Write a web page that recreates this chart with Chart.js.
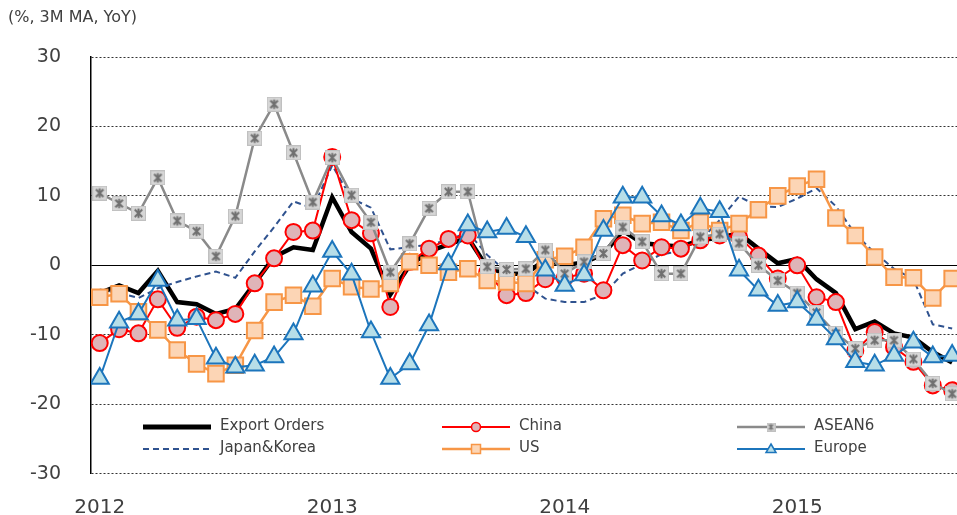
<!DOCTYPE html>
<html>
<head>
<meta charset="utf-8">
<script src="https://cdn.jsdelivr.net/npm/chart.js@4/dist/chart.umd.min.js"></script>
<style>
html, body { margin: 0; padding: 0; background: #fff; overflow: hidden; }
#chart { display: block; }
</style>
</head>
<body>
<canvas id="chart" width="957" height="515"></canvas>
<script>
// monthly, Jan 2012 - Sep 2015
const months = [
  '2012-01','2012-02','2012-03','2012-04','2012-05','2012-06','2012-07','2012-08','2012-09','2012-10','2012-11','2012-12',
  '2013-01','2013-02','2013-03','2013-04','2013-05','2013-06','2013-07','2013-08','2013-09','2013-10','2013-11','2013-12',
  '2014-01','2014-02','2014-03','2014-04','2014-05','2014-06','2014-07','2014-08','2014-09','2014-10','2014-11','2014-12',
  '2015-01','2015-02','2015-03','2015-04','2015-05','2015-06','2015-07','2015-08','2015-09'
];
const exportOrders = [-4.0, -2.9, -4.0, -0.8, -5.3, -5.6, -7.0, -6.3, -2.6, 1.2, 2.6, 2.2,
  9.8, 4.8, 2.4, -4.2, 0.0, 2.0, 3.0, 4.0, -0.3, -1.2, -1.2, 0.8,
  0.0, 0.4, 1.6, 5.0, 3.2, 2.9, 2.7, 3.6, 4.0, 4.6, 2.4, 0.3,
  0.9, -2.0, -4.0, -9.2, -8.1, -9.8, -10.4, -12.5, -14.0];
const china = [-11.2, -9.2, -9.8, -4.9, -9.0, -7.4, -7.9, -7.0, -2.6, 1.0, 4.8, 5.0,
  15.6, 6.5, 4.6, -6.0, 0.5, 2.4, 3.8, 4.3, -1.0, -4.3, -4.0, -2.0,
  -1.8, -1.2, -3.6, 2.9, 0.7, 2.6, 2.4, 3.6, 4.3, 4.1, 1.4, -1.9,
  0.0, -4.6, -5.3, -12.3, -9.6, -11.8, -13.9, -17.3, -18.0];
const asean6 = [10.4, 8.9, 7.5, 12.6, 6.4, 4.9, 1.3, 7.1, 18.3, 23.2, 16.2, 9.1,
  15.5, 10.1, 6.2, -1.0, 3.1, 8.2, 10.6, 10.6, -0.2, -0.6, -0.5, 2.2,
  -1.2, 0.5, 1.7, 5.5, 3.4, -1.2, -1.2, 4.1, 4.5, 3.2, 0.0, -2.2,
  -4.0, -6.8, -9.8, -12.0, -10.8, -10.8, -13.5, -17.0, -18.5];
const japanKorea = [-3.5, -4.0, -4.7, -3.3, -2.4, -1.6, -0.9, -1.8, 2.0, 5.5, 9.2, 8.2,
  14.4, 9.6, 8.3, 2.3, 2.6, 3.0, 3.6, 4.8, 1.5, -0.9, -2.8, -4.8,
  -5.3, -5.3, -4.2, -1.2, 0.2, 1.6, 2.0, 3.6, 6.5, 9.9, 8.5, 8.4,
  9.6, 11.1, 8.5, 4.5, 1.8, -0.5, -2.0, -8.5, -9.1];
const us = [-4.6, -4.1, -6.7, -9.3, -12.2, -14.2, -15.6, -14.4, -9.4, -5.3, -4.3, -5.9,
  -1.9, -3.1, -3.4, -2.6, 0.5, 0.0, -1.0, -0.5, -2.2, -2.4, -2.6, 0.8,
  1.3, 2.6, 6.7, 7.2, 6.0, 6.2, 5.0, 6.2, 5.0, 6.0, 8.0, 10.0,
  11.4, 12.4, 6.8, 4.3, 1.2, -1.7, -1.8, -4.7, -1.9];
const europe = [-16.3, -8.2, -7.0, -2.2, -7.9, -7.7, -13.4, -14.7, -14.4, -13.2, -9.9, -3.0,
  2.0, -1.3, -9.6, -16.3, -14.2, -8.6, 0.2, 5.8, 4.8, 5.3, 4.1, -0.7,
  -2.9, -1.4, 5.0, 9.8, 9.8, 7.1, 5.8, 8.2, 7.7, -0.7, -3.6, -5.8,
  -5.3, -7.8, -10.6, -13.9, -14.4, -13.0, -11.1, -13.2, -13.0];

const FONT = "'DejaVu Sans', Verdana, sans-serif";
const TEXT = '#404040';
const X_MIN = -0.45, X_MAX = 44.25;

function pts(arr) { return arr.map((v, i) => ({ x: i, y: v })); }

// grey square with asterisk (ASEAN6 marker)
function asteriskMarker(size) {
  const c = document.createElement('canvas');
  c.width = size; c.height = size;
  const g = c.getContext('2d');
  g.fillStyle = '#d6d6d6';
  g.fillRect(0, 0, size, size);
  g.strokeStyle = '#c0c0c0'; g.lineWidth = 1;
  g.strokeRect(0.5, 0.5, size - 1, size - 1);
  g.strokeStyle = '#707070'; g.lineWidth = size > 10 ? 2 : 1.2;
  const a = size * 0.25, b = size * 0.75;
  g.beginPath();
  g.moveTo(a, a); g.lineTo(b, b);
  g.moveTo(b, a); g.lineTo(a, b);
  g.moveTo(size / 2, size * 0.18); g.lineTo(size / 2, size * 0.82);
  g.stroke();
  return c;
}
const aseanBig = asteriskMarker(15);
const aseanSmall = asteriskMarker(9);

// legend drawn inside plot area, 3 columns x 2 rows
const legendSlots = [
  { x: 143, y: 427 }, { x: 442, y: 427 }, { x: 737, y: 427 },
  { x: 143, y: 449 }, { x: 442, y: 449 }, { x: 737, y: 449 }
];
const legendOrder = [0, 1, 2, 3, 4, 5];

const legendPlugin = {
  id: 'boxLegend',
  afterDraw(chart) {
    const ctx = chart.ctx;
    ctx.save();
    legendOrder.forEach((di, k) => {
      const ds = chart.data.datasets[di];
      const s = legendSlots[k];
      ctx.beginPath();
      ctx.strokeStyle = ds.borderColor;
      ctx.lineWidth = ds.legendWidth || ds.borderWidth;
      ctx.setLineDash(ds.borderDash || []);
      ctx.moveTo(s.x, s.y); ctx.lineTo(s.x + 68, s.y);
      ctx.stroke();
      ctx.setLineDash([]);
      const cx = s.x + 34, cy = s.y;
      if (ds.legendMarker === 'circle') {
        ctx.beginPath(); ctx.arc(cx, cy, 4.5, 0, Math.PI * 2);
        ctx.fillStyle = ds.pointBackgroundColor; ctx.fill();
        ctx.lineWidth = 1.5; ctx.strokeStyle = ds.pointBorderColor; ctx.stroke();
      } else if (ds.legendMarker === 'rect') {
        ctx.fillStyle = ds.pointBackgroundColor;
        ctx.fillRect(cx - 4.5, cy - 4.5, 9, 9);
        ctx.lineWidth = 1.5; ctx.strokeStyle = ds.pointBorderColor;
        ctx.strokeRect(cx - 4.5, cy - 4.5, 9, 9);
      } else if (ds.legendMarker === 'triangle') {
        ctx.beginPath();
        ctx.moveTo(cx, cy - 5); ctx.lineTo(cx + 5, cy + 3.5); ctx.lineTo(cx - 5, cy + 3.5); ctx.closePath();
        ctx.fillStyle = ds.pointBackgroundColor; ctx.fill();
        ctx.lineWidth = 1.5; ctx.strokeStyle = ds.pointBorderColor; ctx.stroke();
      } else if (ds.legendMarker === 'asterisk') {
        ctx.drawImage(aseanSmall, cx - 4.5, cy - 4.5);
      }
      ctx.fillStyle = TEXT;
      ctx.font = '15px ' + FONT;
      ctx.textAlign = 'left'; ctx.textBaseline = 'middle';
      ctx.fillText(ds.label, s.x + 77, s.y - 1);
    });
    ctx.restore();
  }
};

const unitPlugin = {
  id: 'unitLabel',
  afterDraw(chart) {
    const ctx = chart.ctx;
    ctx.save();
    ctx.fillStyle = TEXT;
    ctx.font = '16px ' + FONT;
    ctx.textAlign = 'left'; ctx.textBaseline = 'middle';
    ctx.fillText('(%, 3M MA, YoY)', 8, 18);
    ctx.restore();
  }
};

new Chart(document.getElementById('chart'), {
  type: 'line',
  data: {
    datasets: [
      { label: 'Export Orders', data: pts(exportOrders), borderColor: '#000000', borderWidth: 4.5,
        legendWidth: 5, pointRadius: 0, order: 5 },
      { label: 'China', data: pts(china), borderColor: '#ff0000', borderWidth: 2,
        pointStyle: 'circle', pointRadius: 8, pointBackgroundColor: '#dfb4b8', pointBorderColor: '#ff0000',
        pointBorderWidth: 2, legendMarker: 'circle', order: 3 },
      { label: 'ASEAN6', data: pts(asean6), borderColor: '#8a8a8a', borderWidth: 2.5,
        pointStyle: aseanBig, legendMarker: 'asterisk', order: 1 },
      { label: 'Japan&Korea', data: pts(japanKorea), borderColor: '#2f528f', borderWidth: 2,
        borderDash: [6, 4], pointRadius: 0, order: 4 },
      { label: 'US', data: pts(us), borderColor: '#f79646', borderWidth: 2.5,
        pointStyle: 'rect', pointRadius: 11, pointBackgroundColor: '#fcd5b5', pointBorderColor: '#f79646',
        pointBorderWidth: 2, legendMarker: 'rect', order: 2 },
      { label: 'Europe', data: pts(europe), borderColor: '#1c75bc', borderWidth: 2,
        pointStyle: 'triangle', pointRadius: 10.5, pointBackgroundColor: '#b7dee8', pointBorderColor: '#1c75bc',
        pointBorderWidth: 2, legendMarker: 'triangle', order: 0 }
    ]
  },
  options: {
    responsive: false,
    animation: false,
    layout: { autoPadding: false, padding: { top: 57, left: 0, right: 0, bottom: 0 } },
    plugins: { legend: { display: false }, tooltip: { enabled: false } },
    elements: { line: { tension: 0 } },
    scales: {
      x: {
        type: 'linear',
        bounds: 'data',
        min: X_MIN,
        max: X_MAX,
        grid: { display: false },
        border: { display: false },
        afterBuildTicks: (scale) => {
          scale.ticks = months.map((m, i) => ({ value: i, m })).filter(t => t.m.endsWith('-01')).map(t => ({ value: t.value }));
        },
        afterFit: (scale) => {
          scale.height = 41;
          scale.paddingLeft = 0;
          scale.paddingRight = 0;
        },
        ticks: {
          autoSkip: false, maxRotation: 0, padding: 14,
          color: TEXT, font: { family: FONT, size: 20 },
          callback: (v) => months[v].slice(0, 4)
        }
      },
      y: {
        min: -30,
        max: 30,
        afterFit: (scale) => { scale.width = 91; },
        grid: {
          color: (c) => (c.tick && c.tick.value === 0) ? '#000000' : '#333333',
          lineWidth: 1,
          drawTicks: false
        },
        border: {
          display: true, color: '#000000', width: 1.5,
          dash: (c) => (c.tick && c.tick.value === 0) ? [] : [2, 2]
        },
        ticks: { stepSize: 10, padding: 30, color: TEXT, font: { family: FONT, size: 19 } }
      }
    }
  },
  plugins: [legendPlugin, unitPlugin]
});
</script>
</body>
</html>
